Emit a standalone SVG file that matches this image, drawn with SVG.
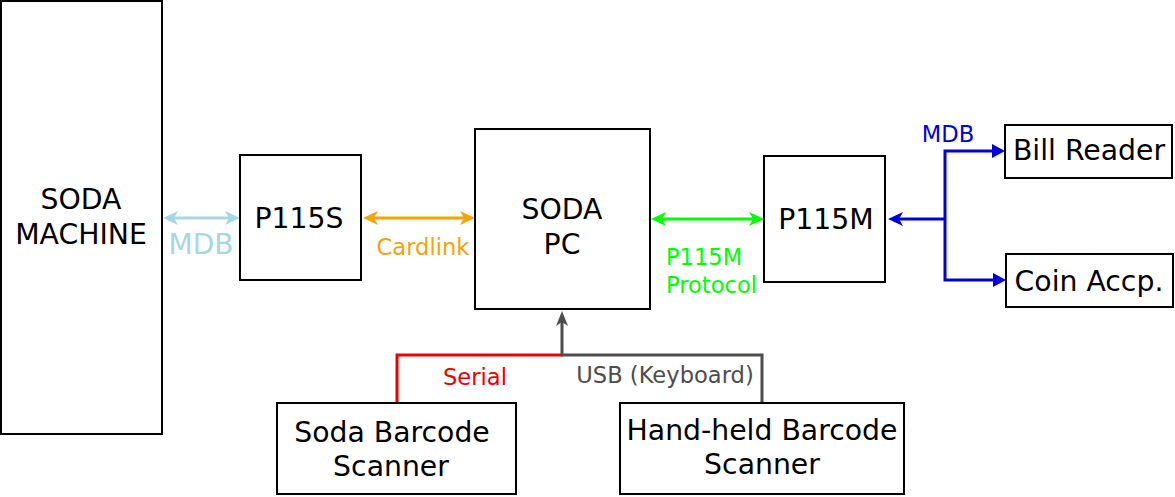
<svg xmlns="http://www.w3.org/2000/svg" width="1175" height="497" viewBox="0 0 1175 497">
<defs>
<style>
.box{fill:#fff;stroke:#000;stroke-width:2}
.t{font-family:"DejaVu Sans",sans-serif;font-size:28.3px;fill:#000;text-anchor:middle}
.s{font-family:"DejaVu Sans",sans-serif;font-size:22.6px}
.c{fill:none;stroke-width:3}
</style>
</defs>
<rect width="1175" height="497" fill="#fff"/>
<g id="connectors">
<line class="c" x1="172" y1="218" x2="231" y2="218" stroke="#a6d7e3"/>
<polygon points="163,218 178,211 174,218 178,225" fill="#a6d7e3"/>
<polygon points="240,218 225,211 229,218 225,225" fill="#a6d7e3"/>
<line class="c" x1="372" y1="218" x2="466" y2="218" stroke="#f5a30a"/>
<polygon points="363,218 378,211 374,218 378,225" fill="#f5a30a"/>
<polygon points="475,218 460,211 464,218 460,225" fill="#f5a30a"/>
<line class="c" x1="660" y1="219" x2="755" y2="219" stroke="#00ff00"/>
<polygon points="651,219 666,212 662,219 666,226" fill="#00ff00"/>
<polygon points="764,219 749,212 753,219 749,226" fill="#00ff00"/>
<polyline class="c" points="897,219 945,219" stroke="#0000dd" stroke-width="4"/>
<polygon points="888,219 903,212 899,219 903,226" fill="#0000dd"/>
<polyline class="c" points="945,219 945,151 993,151" stroke="#0000dd" stroke-width="4"/>
<polygon points="1005,151 992,144 992,158" fill="#0000dd"/>
<polyline class="c" points="945,219 945,280 994,280" stroke="#0000dd" stroke-width="4"/>
<polygon points="1006,280 993,273 993,287" fill="#0000dd"/>
<polyline class="c" points="397,403 397,355 562,355" stroke="#ee0000"/>
<polyline class="c" points="762,403 762,355 562,355 562,320" stroke="#4d4d4d"/>
<polygon points="562,311 556,326 562,322 568,326" fill="#4d4d4d"/>
<text class="s" x="201" y="254" fill="#a6d7e3" style="font-size:28px" text-anchor="middle">MDB</text>
<text class="s" x="423" y="255" fill="#f5a30a" text-anchor="middle">Cardlink</text>
<text class="s" x="948" y="142" fill="#0000dd" text-anchor="middle">MDB</text>
<text class="s" x="666" y="265" fill="#00ff00">P115M</text>
<text class="s" x="666" y="293" fill="#00ff00">Protocol</text>
<text class="s" x="475" y="385" fill="#ee0000" text-anchor="middle">Serial</text>
<text class="s" x="665" y="383" fill="#4d4d4d" text-anchor="middle">USB (Keyboard)</text>
</g>
<g id="soda-machine"><rect class="box" x="1" y="1" width="161" height="433"/><text class="t" x="81" y="209">SODA</text><text class="t" x="81" y="244">MACHINE</text></g>
<g id="p115s"><rect class="box" x="240" y="155" width="121" height="125"/><text class="t" x="299" y="228">P115S</text></g>
<g id="soda-pc"><rect class="box" x="475" y="129" width="175" height="180"/><text class="t" x="562" y="219">SODA</text><text class="t" x="562" y="254">PC</text></g>
<g id="p115m"><rect class="box" x="764" y="156" width="121" height="126"/><text class="t" x="826" y="229">P115M</text></g>
<g id="bill-reader"><rect class="box" x="1005" y="125" width="167" height="53"/><text class="t" x="1089" y="160">Bill Reader</text></g>
<g id="coin-accp"><rect class="box" x="1006" y="254" width="167" height="53"/><text class="t" x="1089" y="291">Coin Accp.</text></g>
<g id="soda-barcode-scanner"><rect class="box" x="277" y="403" width="239" height="91"/><text class="t" x="392" y="442">Soda Barcode </text><text class="t" x="391" y="476">Scanner</text></g>
<g id="handheld-barcode-scanner"><rect class="box" x="620" y="403" width="284" height="91"/><text class="t" x="762" y="440">Hand-held Barcode</text><text class="t" x="762" y="474">Scanner</text></g>
</svg>
